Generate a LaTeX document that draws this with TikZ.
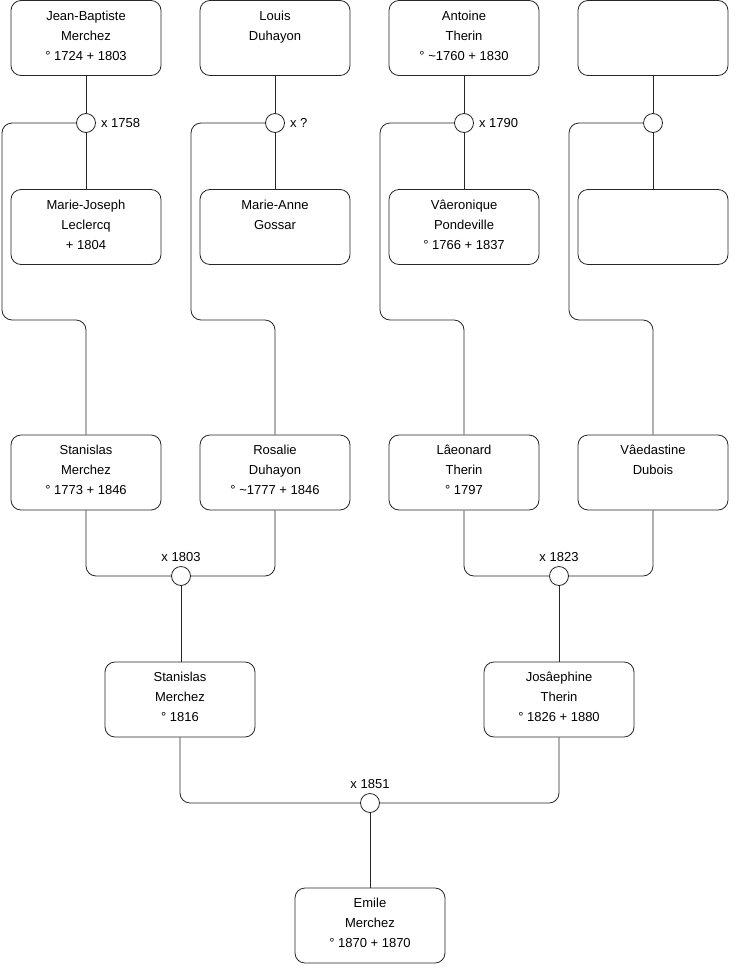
\documentclass[tikz,border=0pt]{standalone}
\usepackage{fontspec}
\setmainfont{Liberation Sans}
\begin{document}
\begin{tikzpicture}[x=1pt,y={(0,-1pt)},
  person/.style={draw=black!85, rounded corners=10pt, minimum width=150pt, minimum height=75pt, inner sep=0pt, line width=0.8pt},
  ptext/.style={anchor=north, align=center, inner sep=0pt, yshift=-8pt, font=\fontsize{13}{20}\selectfont},
  union/.style={draw=black!85, circle, fill=white, minimum size=19pt, inner sep=0pt, line width=0.8pt},
  link/.style={draw=black!85, line width=0.8pt, rounded corners=10pt},
  ulabel/.style={font=\fontsize{13}{15}\selectfont, inner sep=0pt}]
\useasboundingbox (0,0) rectangle (740,975);

% row 1
\node[person] (jb) at (86,38) {};
\node[ptext] (jbt) at (jb.north) {\rule{0pt}{12pt}Jean-Baptiste\\Merchez\\° 1724 + 1803};
\node[person] (ld) at (275,38) {};
\node[ptext] (ldt) at (ld.north) {\rule{0pt}{12pt}Louis\\Duhayon};
\node[person] (at) at (464,38) {};
\node[ptext] (att) at (at.north) {\rule{0pt}{12pt}Antoine\\Therin\\° \textasciitilde1760 + 1830};
\node[person] (e1) at (653,38) {};

% row 2
\node[person] (mj) at (86,227) {};
\node[ptext] (mjt) at (mj.north) {\rule{0pt}{12pt}Marie-Joseph\\Leclercq\\+ 1804};
\node[person] (ma) at (275,227) {};
\node[ptext] (mat) at (ma.north) {\rule{0pt}{12pt}Marie-Anne\\Gossar};
\node[person] (vp) at (464,227) {};
\node[ptext] (vpt) at (vp.north) {\rule{0pt}{12pt}Vâeronique\\Pondeville\\° 1766 + 1837};
\node[person] (e2) at (653,227) {};

% row 3
\node[person] (sm) at (86,472.5) {};
\node[ptext] (smt) at (sm.north) {\rule{0pt}{12pt}Stanislas\\Merchez\\° 1773 + 1846};
\node[person] (rd) at (275,472.5) {};
\node[ptext] (rdt) at (rd.north) {\rule{0pt}{12pt}Rosalie\\Duhayon\\° \textasciitilde1777 + 1846};
\node[person] (lt) at (464,472.5) {};
\node[ptext] (ltt) at (lt.north) {\rule{0pt}{12pt}Lâeonard\\Therin\\° 1797};
\node[person] (vd) at (653,472.5) {};
\node[ptext] (vdt) at (vd.north) {\rule{0pt}{12pt}Vâedastine\\Dubois};

% row 4
\node[person] (sj) at (180,699.5) {};
\node[ptext] (sjt) at (sj.north) {\rule{0pt}{12pt}Stanislas\\Merchez\\° 1816};
\node[person] (jt) at (559,699.5) {};
\node[ptext] (jtt) at (jt.north) {\rule{0pt}{12pt}Josâephine\\Therin\\° 1826 + 1880};

% row 5
\node[person] (em) at (370,925.5) {};
\node[ptext] (emt) at (em.north) {\rule{0pt}{12pt}Emile\\Merchez\\° 1870 + 1870};

% unions
\node[union] (u1) at (86,123) {};
\node[union] (u2) at (275,123) {};
\node[union] (u3) at (464,123) {};
\node[union] (u4) at (653,123) {};
\node[union] (u5) at (181,576) {};
\node[union] (u6) at (559,576) {};
\node[union] (u7) at (370,803) {};

% union labels
\node[ulabel, anchor=west] (l1) at ([xshift=5pt]u1.east) {x 1758};
\node[ulabel, anchor=west] (l2) at ([xshift=5pt]u2.east) {x ?};
\node[ulabel, anchor=west] (l3) at ([xshift=5pt]u3.east) {x 1790};
\node[ulabel, anchor=south] (l5) at ([yshift=4pt]u5.north) {x 1803};
\node[ulabel, anchor=south] (l6) at ([yshift=4pt]u6.north) {x 1823};
\node[ulabel, anchor=south] (l7) at ([yshift=4pt]u7.north) {x 1851};

% bend points
\coordinate (k1) at (2,320);
\coordinate (k2) at (191,320);
\coordinate (k3) at (380,320);
\coordinate (k4) at (569,320);

% connectors top
\draw[link] (jb) -- (u1);
\draw[link] (u1) -- (mj);
\draw[link] (ld) -- (u2);
\draw[link] (u2) -- (ma);
\draw[link] (at) -- (u3);
\draw[link] (u3) -- (vp);
\draw[link] (e1) -- (u4);
\draw[link] (u4) -- (e2);

\draw[link] (u1.west) -| (k1) -| (sm.north);
\draw[link] (u2.west) -| (k2) -| (rd.north);
\draw[link] (u3.west) -| (k3) -| (lt.north);
\draw[link] (u4.west) -| (k4) -| (vd.north);

% connectors lower
\draw[link] (sm.south) |- (u5.west);
\draw[link] (rd.south) |- (u5.east);
\draw[link] (u5) -- (u5 |- sj.north);
\draw[link] (lt.south) |- (u6.west);
\draw[link] (vd.south) |- (u6.east);
\draw[link] (u6) -- (jt);
\draw[link] (sj.south) |- (u7.west);
\draw[link] (jt.south) |- (u7.east);
\draw[link] (u7) -- (em);
\end{tikzpicture}
\end{document}
